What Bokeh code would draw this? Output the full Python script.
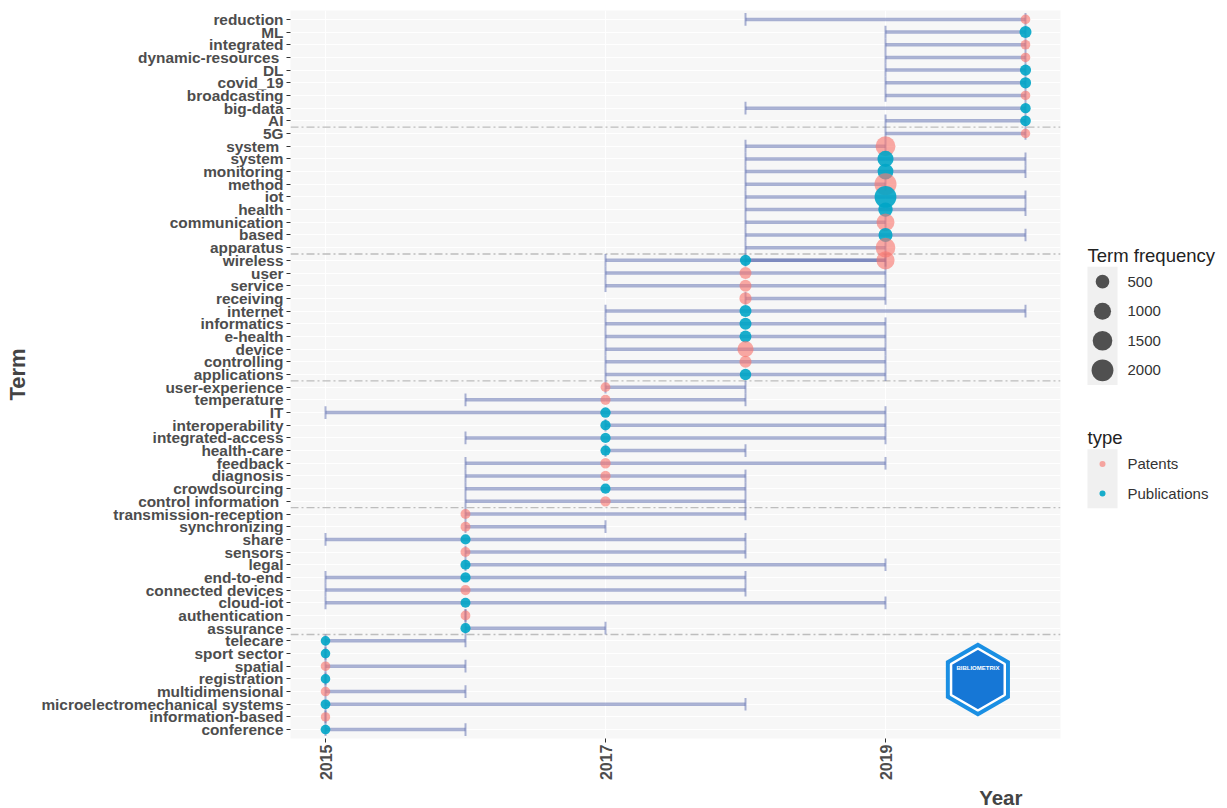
import math
from bokeh.plotting import figure
from bokeh.models import ColumnDataSource, FactorRange, Range1d, FixedTicker, Span, Label, Title
from bokeh.transform import dodge, factor_cmap
from bokeh.layouts import row
from bokeh.embed import file_html
from bokeh.resources import INLINE
from bokeh.core.properties import value

# ---------------- data (listed top to bottom as in the chart) ----------------
terms = [
    "reduction", "ML", "integrated", "dynamic-resources ", "DL", "covid_19", "broadcasting", "big-data", "AI", "5G",
    "system ", "system", "monitoring", "method", "iot", "health", "communication", "based", "apparatus", "wireless",
    "wireless", "user", "service", "receiving", "internet", "informatics", "e-health", "device", "controlling", "applications",
    "user-experience", "temperature", "IT", "interoperability", "integrated-access", "health-care", "feedback", "diagnosis",
    "crowdsourcing", "control information ",
    "transmission-reception", "synchronizing", "share", "sensors", "legal", "end-to-end", "connected devices", "cloud-iot",
    "authentication", "assurance",
    "telecare", "sport sector", "spatial", "registration", "multidimensional", "microelectromechanical systems",
    "information-based", "conference",
]
types = [
    "Patents", "Publications", "Patents", "Patents", "Publications", "Publications", "Patents", "Publications", "Publications", "Patents",
    "Patents", "Publications", "Publications", "Patents", "Publications", "Publications", "Patents", "Publications", "Patents", "Patents",
    "Publications", "Patents", "Patents", "Patents", "Publications", "Publications", "Publications", "Patents", "Patents", "Publications",
    "Patents", "Patents", "Publications", "Publications", "Publications", "Publications", "Patents", "Patents", "Publications", "Patents",
    "Patents", "Patents", "Publications", "Patents", "Publications", "Publications", "Patents", "Publications", "Patents", "Publications",
    "Publications", "Publications", "Patents", "Publications", "Patents", "Publications", "Patents", "Publications",
]
years = [
    2020, 2020, 2020, 2020, 2020, 2020, 2020, 2020, 2020, 2020,
    2019, 2019, 2019, 2019, 2019, 2019, 2019, 2019, 2019, 2019,
    2018, 2018, 2018, 2018, 2018, 2018, 2018, 2018, 2018, 2018,
    2017, 2017, 2017, 2017, 2017, 2017, 2017, 2017, 2017, 2017,
    2016, 2016, 2016, 2016, 2016, 2016, 2016, 2016, 2016, 2016,
    2015, 2015, 2015, 2015, 2015, 2015, 2015, 2015,
]
start_years = [
    2018, 2019, 2019, 2019, 2019, 2019, 2019, 2018, 2019, 2019,
    2018, 2018, 2018, 2018, 2018, 2018, 2018, 2018, 2018, 2018,
    2017, 2017, 2017, 2018, 2017, 2017, 2017, 2017, 2017, 2017,
    2017, 2016, 2015, 2017, 2016, 2017, 2016, 2016, 2016, 2016,
    2016, 2016, 2015, 2016, 2016, 2015, 2015, 2015, 2016, 2016,
    2015, 2015, 2015, 2015, 2015, 2015, 2015, 2015,
]
end_years = [
    2020, 2020, 2020, 2020, 2020, 2020, 2020, 2020, 2020, 2020,
    2019, 2020, 2020, 2019, 2020, 2020, 2019, 2020, 2019, 2019,
    2019, 2019, 2019, 2019, 2020, 2019, 2019, 2019, 2019, 2019,
    2018, 2018, 2019, 2019, 2019, 2018, 2019, 2018, 2018, 2018,
    2018, 2017, 2018, 2018, 2019, 2018, 2018, 2019, 2016, 2017,
    2016, 2015, 2016, 2015, 2016, 2018, 2015, 2016,
]
frequencies = [
    150, 330, 150, 150, 260, 260, 150, 200, 220, 140,
    1550, 850, 800, 2050, 2000, 600, 1150, 560, 1500, 1200,
    260, 330, 330, 350, 330, 330, 320, 850, 340, 280,
    160, 180, 200, 190, 190, 180, 200, 190, 180, 200,
    170, 170, 180, 170, 180, 190, 180, 170, 160, 180,
    150, 150, 150, 150, 150, 160, 140, 160,
]
type_names = ["Patents", "Publications"]
size_breaks = [500, 1000, 1500, 2000]
x_tick_years = [2015, 2017, 2019]
separator_after_row = [8, 18, 28, 38, 48]   # counted from the bottom row

# ---------------- styles / layout ----------------
FONT = "Liberation Sans"
TYPE_COLORS = ["#F8766D", "#00A5C6"]
TYPE_ALPHA = {"Patents": 0.62, "Publications": 0.9}
BAR_COLOR = "#5060A8"
BAR_ALPHA = 0.48
SIZE_DOMAIN = (50.0, 2300.0)
SIZE_PX = (6.0, 23.0)

TOTAL_H = 808
MAIN_W = 1068
LEG_W = 157
BORDER_L, BORDER_R, BORDER_T = 290, 8, 10
FRAME_H = 729
BORDER_B = TOTAL_H - BORDER_T - FRAME_H


def size_px(f):
    t = max(f - SIZE_DOMAIN[0], 0.0) / (SIZE_DOMAIN[1] - SIZE_DOMAIN[0])
    return SIZE_PX[0] + (SIZE_PX[1] - SIZE_PX[0]) * math.sqrt(t)


axis_terms = list(dict.fromkeys(terms))          # top to bottom
factors = list(reversed(axis_terms))             # bottom to top

src = ColumnDataSource(dict(
    term=terms, type=types, year=years, start=start_years, end=end_years, freq=frequencies,
    size=[size_px(f) for f in frequencies],
    alpha=[TYPE_ALPHA[t] for t in types],
))

p = figure(width=MAIN_W, height=TOTAL_H,
           x_range=Range1d(2014.75, 2020.25),
           y_range=FactorRange(factors=factors, range_padding=0.2, range_padding_units="absolute"),
           output_backend="svg", toolbar_location=None,
           min_border_left=BORDER_L, min_border_right=BORDER_R,
           min_border_top=BORDER_T, min_border_bottom=BORDER_B)
p.background_fill_color = "#F7F7F7"
p.border_fill_color = "white"
p.outline_line_color = None

p.xgrid.grid_line_color = "white"
p.ygrid.grid_line_color = "white"
p.xgrid.grid_line_width = 1
p.ygrid.grid_line_width = 1

# y axis
p.yaxis.axis_line_color = None
p.yaxis.major_tick_line_color = "#333333"
p.yaxis.major_tick_out = 4
p.yaxis.major_tick_in = 0
p.yaxis.major_label_standoff = 3
p.yaxis.major_label_text_font = FONT
p.yaxis.major_label_text_font_style = "bold"
p.yaxis.major_label_text_font_size = "15.4px"
p.yaxis.major_label_text_color = "#4D4D4D"
p.yaxis.axis_label = "Term"
p.yaxis.axis_label_text_font = FONT
p.yaxis.axis_label_text_font_style = "bold"
p.yaxis.axis_label_text_font_size = "22px"
p.yaxis.axis_label_text_color = "#444444"
p.yaxis.axis_label_standoff = 8

# x axis
p.xaxis.ticker = FixedTicker(ticks=x_tick_years)
p.xaxis.axis_line_color = None
p.xaxis.major_tick_line_color = "#333333"
p.xaxis.major_tick_out = 4
p.xaxis.major_tick_in = 0
p.xaxis.minor_tick_line_color = None
p.xaxis.major_label_orientation = math.pi / 2
p.xaxis.major_label_standoff = 2
p.xaxis.major_label_text_font = FONT
p.xaxis.major_label_text_font_style = "bold"
p.xaxis.major_label_text_font_size = "16px"
p.xaxis.major_label_text_color = "#4D4D4D"

# "Year" axis title, right-aligned below the tick labels
p.add_layout(Title(text="Year", align="right", offset=38, standoff=0, text_font=FONT,
                   text_font_size="20.5px", text_font_style="bold", text_color="#444444"), "below")

# group separators
for r in separator_after_row:
    p.add_layout(Span(location=r, dimension="width", line_color="#BDBDBD", line_width=1.3,
                      line_dash="8 3 2 3", level="underlay"))

# error bars
p.segment(x0="start", y0="term", x1="end", y1="term", source=src,
          line_color=BAR_COLOR, line_alpha=BAR_ALPHA, line_width=3.5)
for col in ("start", "end"):
    p.segment(x0=col, y0=dodge("term", -0.5, range=p.y_range),
              x1=col, y1=dodge("term", 0.5, range=p.y_range), source=src,
              line_color=BAR_COLOR, line_alpha=BAR_ALPHA, line_width=2)

# points
p.scatter(x="year", y="term", size="size", source=src,
          fill_color=factor_cmap("type", palette=TYPE_COLORS, factors=type_names),
          fill_alpha="alpha", line_color=None)

# logo (decoration)
LOGO_X, LOGO_Y = 2019.66, 4.45
p.scatter(x=[LOGO_X], y=[LOGO_Y], marker="hex", size=74, angle=math.pi / 2,
          fill_color="#1A8FE3", line_color=None)
p.scatter(x=[LOGO_X], y=[LOGO_Y], marker="hex", size=62, angle=math.pi / 2,
          fill_color="#1677D6", line_color="white", line_width=2.5)
p.add_layout(Label(x=LOGO_X, y=LOGO_Y + 0.9, text="BIBLIOMETRIX", text_align="center",
                   text_baseline="middle", text_font=FONT, text_font_size="6px",
                   text_font_style="bold", text_color="white"))

# ---------------- legend panel (coordinates = page pixels) ----------------
lg = figure(width=LEG_W, height=TOTAL_H,
            x_range=Range1d(MAIN_W, MAIN_W + LEG_W),
            y_range=Range1d(BORDER_T + FRAME_H, BORDER_T),
            output_backend="svg", toolbar_location=None,
            min_border_left=0, min_border_right=0,
            min_border_top=BORDER_T, min_border_bottom=BORDER_B,
            x_axis_location=None, y_axis_location=None)
lg.outline_line_color = None
lg.background_fill_color = "white"
lg.border_fill_color = "white"
lg.grid.visible = False

KEY_L, KEY_R, LABEL_X = 1087, 1117, 1127
KEY_H = 29.6


def legend_title(y, text):
    lg.add_layout(Label(x=KEY_L, y=y, text=text, text_baseline="alphabetic", text_font=FONT,
                        text_font_size="18.5px", text_color="#222222"))


# size legend
legend_title(255, "Term frequency")
top1 = 266.7
lg.quad(left=KEY_L, right=KEY_R, top=top1, bottom=top1 + KEY_H * len(size_breaks),
        fill_color="#F0F0F0", line_color=None)
centers1 = [top1 + KEY_H * (i + 0.5) for i in range(len(size_breaks))]
lg.scatter(x=[(KEY_L + KEY_R) / 2] * len(size_breaks), y=centers1,
           size=[size_px(b) for b in size_breaks], fill_color="#505050", line_color=None)
lg.text(x=[LABEL_X] * len(size_breaks), y=centers1, text=[str(b) for b in size_breaks],
        text_baseline="middle", text_font=value(FONT), text_font_size="15px", text_color="#333333")

# type legend
legend_title(438, "type")
top2 = 449.3
lg.quad(left=KEY_L, right=KEY_R, top=top2, bottom=top2 + KEY_H * len(type_names),
        fill_color="#F0F0F0", line_color=None)
centers2 = [top2 + KEY_H * (i + 0.5) for i in range(len(type_names))]
lg.scatter(x=[(KEY_L + KEY_R) / 2] * len(type_names), y=centers2, size=6,
           fill_color=TYPE_COLORS, fill_alpha=[TYPE_ALPHA[t] for t in type_names], line_color=None)
lg.text(x=[LABEL_X] * len(type_names), y=centers2, text=type_names,
        text_baseline="middle", text_font=value(FONT), text_font_size="15px", text_color="#333333")

layout = row(p, lg)
open("out.html", "w").write(file_html(layout, INLINE))
